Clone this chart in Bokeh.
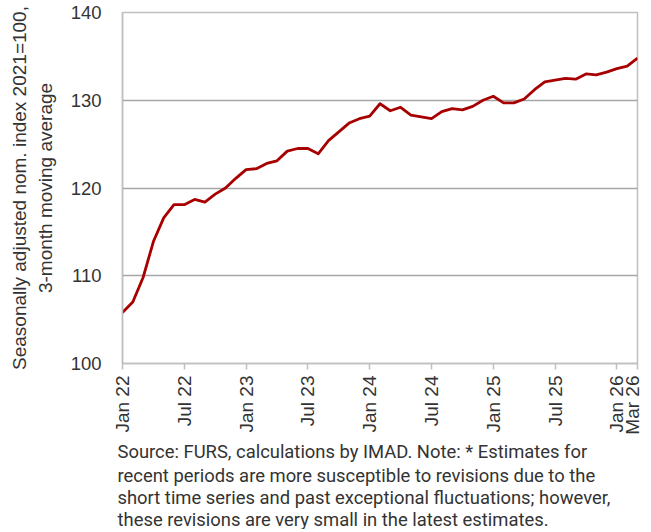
import pandas as pd
from bokeh.plotting import figure
from bokeh.models import Range1d, FixedTicker, Title
from bokeh.embed import file_html
from bokeh.resources import INLINE

months = [d.strftime("%b %y") for d in pd.date_range("2022-01-01", "2026-03-01", freq="MS")]
values = [
    105.8, 107.0, 109.8, 113.9, 116.6, 118.1, 118.1, 118.7, 118.4, 119.3, 120.0, 121.1,
    122.1, 122.2, 122.8, 123.1, 124.2, 124.5, 124.5, 123.9, 125.4, 126.4, 127.4, 127.9,
    128.2, 129.6, 128.8, 129.2, 128.3, 128.1, 127.9, 128.7, 129.05, 128.9, 129.3, 130.0,
    130.45, 129.7, 129.7, 130.15, 131.2, 132.1, 132.3, 132.5, 132.4, 133.0, 132.9, 133.2,
    133.6, 133.9, 134.8,
]
tick_labels = ["Jan 22", "Jul 22", "Jan 23", "Jul 23", "Jan 24", "Jul 24",
               "Jan 25", "Jul 25", "Jan 26", "Mar 26"]
y_ticks = [100, 110, 120, 130, 140]
y_label = "Seasonally adjusted nom. index 2021=100,\n3-month moving average"
note_lines = [
    "Source: FURS, calculations by IMAD. Note: * Estimates for",
    "recent periods are more susceptible to revisions due to the",
    "short time series and past exceptional fluctuations; however,",
    "these revisions are very small in the latest estimates.",
]

x = list(range(len(months)))
tick_pos = [months.index(t) for t in tick_labels]

p = figure(frame_width=515, frame_height=351, output_backend="svg", toolbar_location=None,
           x_range=Range1d(0, len(months) - 1), y_range=Range1d(100, 140),
           min_border_left=122, min_border_right=5, min_border_top=12, min_border_bottom=0)

p.line(x, values, line_color="#a80000", line_width=2.8, line_join="round")

p.outline_line_color = "#bfbfbf"
p.outline_line_width = 1.5
p.xgrid.visible = False
p.ygrid.ticker = FixedTicker(ticks=y_ticks)
p.ygrid.grid_line_color = "#a6a6a6"
p.ygrid.grid_line_width = 1.5

ya = p.yaxis[0]
ya.ticker = FixedTicker(ticks=y_ticks)
ya.axis_line_color = "#bfbfbf"
ya.axis_line_width = 1.5
ya.major_tick_line_color = None
ya.minor_tick_line_color = None
ya.major_label_text_font = "Liberation Sans"
ya.major_label_text_font_size = "18.5px"
ya.major_label_text_color = "#333333"
ya.major_label_standoff = 15
ya.axis_label = y_label
ya.axis_label_text_font = "Liberation Sans"
ya.axis_label_text_font_size = "19px"
ya.axis_label_text_font_style = "normal"
ya.axis_label_text_color = "#333333"
ya.axis_label_standoff = 12

xa = p.xaxis[0]
xa.ticker = FixedTicker(ticks=tick_pos)
xa.major_label_overrides = {pos: lab for pos, lab in zip(tick_pos, tick_labels)}
xa.major_label_orientation = 3.14159265 / 2
xa.axis_line_color = "#bfbfbf"
xa.axis_line_width = 1.5
xa.major_tick_line_color = "#bfbfbf"
xa.major_tick_line_width = 1.5
xa.major_tick_in = 0
xa.major_tick_out = 6
xa.minor_tick_line_color = None
xa.major_label_text_font = "Liberation Sans"
xa.major_label_text_font_size = "19px"
xa.major_label_text_color = "#333333"
xa.major_label_standoff = 6

for i, line in enumerate(note_lines):
    t = Title(text=line, align="left", offset=-5, text_font="Roboto",
              text_font_size="18.4px", text_font_style="normal", text_color="#333333",
              standoff=3 if i == 0 else -1)
    p.add_layout(t, "below")

open("out.html", "w").write(file_html(p, INLINE))
